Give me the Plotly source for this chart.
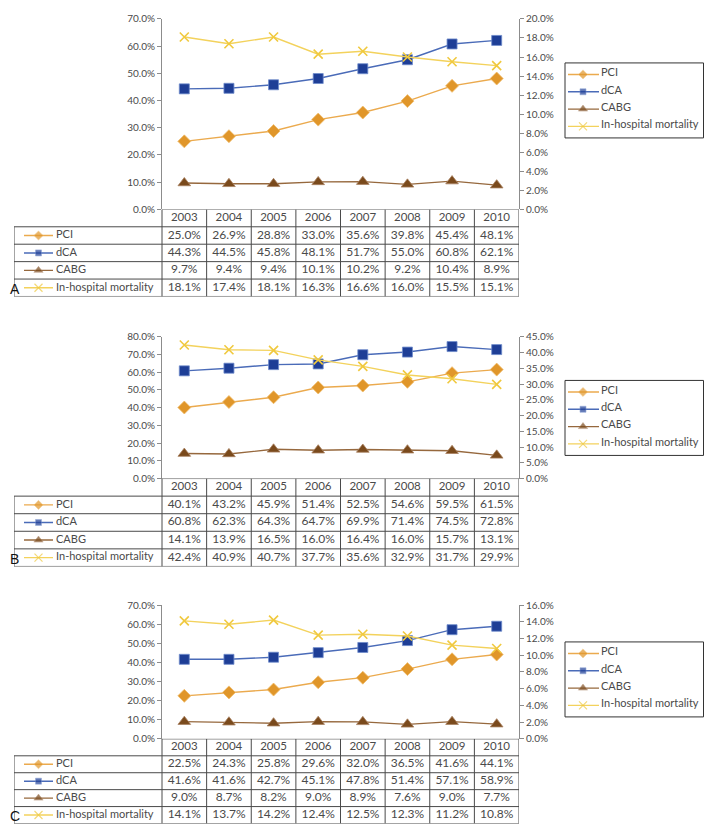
import plotly.graph_objects as go

# Data (percent)
years = ["2003", "2004", "2005", "2006", "2007", "2008", "2009", "2010"]
series_names = ["PCI", "dCA", "CABG", "In-hospital mortality"]
panel_labels = ["A", "B", "C"]

a_pci = [25.0, 26.9, 28.8, 33.0, 35.6, 39.8, 45.4, 48.1]
a_dca = [44.3, 44.5, 45.8, 48.1, 51.7, 55.0, 60.8, 62.1]
a_cabg = [9.7, 9.4, 9.4, 10.1, 10.2, 9.2, 10.4, 8.9]
a_mort = [18.1, 17.4, 18.1, 16.3, 16.6, 16.0, 15.5, 15.1]

b_pci = [40.1, 43.2, 45.9, 51.4, 52.5, 54.6, 59.5, 61.5]
b_dca = [60.8, 62.3, 64.3, 64.7, 69.9, 71.4, 74.5, 72.8]
b_cabg = [14.1, 13.9, 16.5, 16.0, 16.4, 16.0, 15.7, 13.1]
b_mort = [42.4, 40.9, 40.7, 37.7, 35.6, 32.9, 31.7, 29.9]

c_pci = [22.5, 24.3, 25.8, 29.6, 32.0, 36.5, 41.6, 44.1]
c_dca = [41.6, 41.6, 42.7, 45.1, 47.8, 51.4, 57.1, 58.9]
c_cabg = [9.0, 8.7, 8.2, 9.0, 8.9, 7.6, 9.0, 7.7]
c_mort = [14.1, 13.7, 14.2, 12.4, 12.5, 12.3, 11.2, 10.8]

panels = [
    [a_pci, a_dca, a_cabg, a_mort],
    [b_pci, b_dca, b_cabg, b_mort],
    [c_pci, c_dca, c_cabg, c_mort],
]
left_max = [70, 80, 70]
left_step = [10, 10, 10]
right_max = [20, 45, 16]
right_step = [2, 5, 2]

# page geometry (pixels in the browser window); the page body has an 8px margin,
# so the figure is sized to fit inside it without overflowing
OFF = 8
W, H = 712 - 2 * OFF, 838 - 2 * OFF
X_TAB0, X_PLOT0, X_PLOT1 = 14, 162, 519
# plot top, plot bottom (= table top), table bottom
geom = [(12, 205.5, 294), (335, 479, 568.3), (607.5, 743.5, 829.5)]
# legend box: left, right, tops, height
LEG_X0, LEG_X1 = 565, 703.5
legend_top = [56.7, 379.3, 645]
LEG_H = 76.2
LEG_ROW = 17.6

FONT = "Lato"
TXT = "#4a4a4a"
AXC = "#8c8c8c"
GRID = "#4a4a4a"

styles = [
    dict(line="#EBAA4E", symbol="diamond", mcol="#E0962A", mline="#F0BE6E", size=10, small=7),
    dict(line="#4A6BB8", symbol="square", mcol="#1E3E96", mline="#6F8CCB", size=10, small=6),
    dict(line="#96683D", symbol="triangle-up", mcol="#7A4A1C", mline="#A88060", size=11, small=8),
    dict(line="#F3D25C", symbol="x-thin", mcol="#F0C93E", mline="#F0C93E", size=9, small=8),
]


def fx(px):
    return (px - OFF) / W


def fy(py):
    return 1 - (py - OFF) / H


def aid(prefix, n):
    return prefix if n == 1 else f"{prefix}{n}"


def lkey(prefix, n):
    return f"{prefix}axis" if n == 1 else f"{prefix}axis{n}"


fig = go.Figure()
layout = {}
shapes = []
annotations = []

colw = (X_PLOT1 - X_PLOT0) / len(years)
lab_units = (X_PLOT0 - X_TAB0) / colw
tx0 = -0.5 - lab_units
nrows = len(series_names) + 1
hidden = dict(visible=False, fixedrange=True)

for k, data in enumerate(panels):
    top, mid, bot = geom[k]
    xp, xt, xg = 3 * k + 1, 3 * k + 2, 3 * k + 3
    yl, yr, yt, yg = 4 * k + 1, 4 * k + 2, 4 * k + 3, 4 * k + 4

    # chart axes
    layout[lkey("x", xp)] = dict(hidden, domain=[fx(X_PLOT0), fx(X_PLOT1)], type="category",
                                 range=[-0.5, len(years) - 0.5], anchor=aid("y", yl))
    yax = dict(showgrid=False, zeroline=False, showline=True, linecolor=AXC, linewidth=1,
               ticks="outside", ticklen=4, tickcolor=AXC, tickformat=".1f", ticksuffix="%",
               tickfont=dict(family=FONT, size=10, color=TXT), fixedrange=True)
    layout[lkey("y", yl)] = dict(yax, domain=[fy(mid), fy(top)], range=[0, left_max[k]],
                                 dtick=left_step[k], anchor=aid("x", xp))
    layout[lkey("y", yr)] = dict(yax, domain=[fy(mid), fy(top)], range=[0, right_max[k]],
                                 dtick=right_step[k], anchor=aid("x", xp), side="right",
                                 overlaying=aid("y", yl))
    # table axes
    layout[lkey("x", xt)] = dict(hidden, domain=[fx(X_TAB0), fx(X_PLOT1)],
                                 range=[tx0, len(years) - 0.5], anchor=aid("y", yt))
    layout[lkey("y", yt)] = dict(hidden, domain=[fy(bot), fy(mid)], range=[nrows, 0],
                                 anchor=aid("x", xt))
    # legend box axes (units: px across, rows down)
    lt = legend_top[k]
    leg_w = LEG_X1 - LEG_X0
    leg_rows = LEG_H / LEG_ROW
    layout[lkey("x", xg)] = dict(hidden, domain=[fx(LEG_X0), fx(LEG_X1)], range=[0, leg_w],
                                 anchor=aid("y", yg))
    layout[lkey("y", yg)] = dict(hidden, domain=[fy(lt + LEG_H), fy(lt)], range=[leg_rows, 0],
                                 anchor=aid("x", xg))
    shapes.append(dict(type="rect", xref="paper", yref="paper",
                       x0=fx(LEG_X0), x1=fx(LEG_X1), y0=fy(lt + LEG_H), y1=fy(lt),
                       line=dict(color="#333", width=1)))
    lead = (leg_rows - len(series_names)) / 2

    for i, (name, vals, st) in enumerate(zip(series_names, data, styles)):
        on_right = name == "In-hospital mortality"
        mk = dict(symbol=st["symbol"], size=st["size"], color=st["mcol"],
                  line=dict(width=1.6 if on_right else 0.8, color=st["mline"]))
        fig.add_trace(go.Scatter(
            x=years, y=vals, mode="lines+markers", name=name, showlegend=False,
            line=dict(color=st["line"], width=1.4), marker=mk,
            xaxis=aid("x", xp), yaxis=aid("y", yr if on_right else yl),
            cliponaxis=False))

        small = dict(mk, size=[0, st["small"], 0],
                     line=dict(width=1.2 if on_right else 0.6, color=st["mline"]))

        # legend entry
        fig.add_trace(go.Scatter(
            x=[3, 18, 34], y=[lead + i + 0.5] * 3, mode="lines+markers", showlegend=False,
            line=dict(color=st["line"], width=1.4), marker=small,
            xaxis=aid("x", xg), yaxis=aid("y", yg), hoverinfo="skip"))
        fig.add_trace(go.Scatter(
            x=[36], y=[lead + i + 0.45], mode="text", text=[name],
            textposition="middle right", showlegend=False,
            textfont=dict(family=FONT, size=11, color=TXT),
            xaxis=aid("x", xg), yaxis=aid("y", yg), hoverinfo="skip", cliponaxis=False))

        # table row: symbol + label
        r = i + 1
        sx = [tx0 + 10 / colw, tx0 + 24.5 / colw, tx0 + 39 / colw]
        fig.add_trace(go.Scatter(
            x=sx, y=[r + 0.5] * 3, mode="lines+markers", showlegend=False,
            line=dict(color=st["line"], width=1.4), marker=small,
            xaxis=aid("x", xt), yaxis=aid("y", yt), hoverinfo="skip"))
        fig.add_trace(go.Scatter(
            x=[tx0 + 42 / colw], y=[r + 0.5], mode="text", text=[name],
            textposition="middle right", showlegend=False,
            textfont=dict(family=FONT, size=11, color=TXT),
            xaxis=aid("x", xt), yaxis=aid("y", yt), hoverinfo="skip", cliponaxis=False))
        fig.add_trace(go.Scatter(
            x=list(range(len(years))), y=[r + 0.5] * len(years), mode="text",
            text=[f"{v:.1f}%" for v in vals], textposition="middle center", showlegend=False,
            textfont=dict(family=FONT, size=12, color=TXT),
            xaxis=aid("x", xt), yaxis=aid("y", yt), hoverinfo="skip", cliponaxis=False))

    # year header row
    fig.add_trace(go.Scatter(
        x=list(range(len(years))), y=[0.5] * len(years), mode="text", text=years,
        textposition="middle center", showlegend=False,
        textfont=dict(family=FONT, size=11.5, color=TXT),
        xaxis=aid("x", xt), yaxis=aid("y", yt), hoverinfo="skip", cliponaxis=False))

    # table grid
    xr, yrf = aid("x", xt), aid("y", yt)
    ln = dict(color=GRID, width=1)
    shapes.append(dict(type="line", xref=xr, yref=yrf, x0=-0.5, x1=len(years) - 0.5,
                       y0=0, y1=0, line=ln))
    for r in range(1, nrows + 1):
        shapes.append(dict(type="line", xref=xr, yref=yrf, x0=tx0, x1=len(years) - 0.5,
                           y0=r, y1=r, line=ln))
    for c in range(len(years) + 1):
        shapes.append(dict(type="line", xref=xr, yref=yrf, x0=c - 0.5, x1=c - 0.5,
                           y0=0, y1=nrows, line=ln))
    shapes.append(dict(type="line", xref=xr, yref=yrf, x0=tx0, x1=tx0,
                       y0=1, y1=nrows, line=ln))

    annotations.append(dict(text=panel_labels[k], xref="paper", yref="paper", x=0,
                            y=fy(bot + 3), xanchor="left", yanchor="bottom", showarrow=False,
                            font=dict(family="Liberation Sans", size=14, color="#111")))

fig.update_layout(
    width=W, height=H,
    margin=dict(l=0, r=0, t=0, b=0),
    paper_bgcolor="white", plot_bgcolor="white",
    showlegend=False,
    shapes=shapes, annotations=annotations,
    **layout,
)

fig.write_html("out.html")
